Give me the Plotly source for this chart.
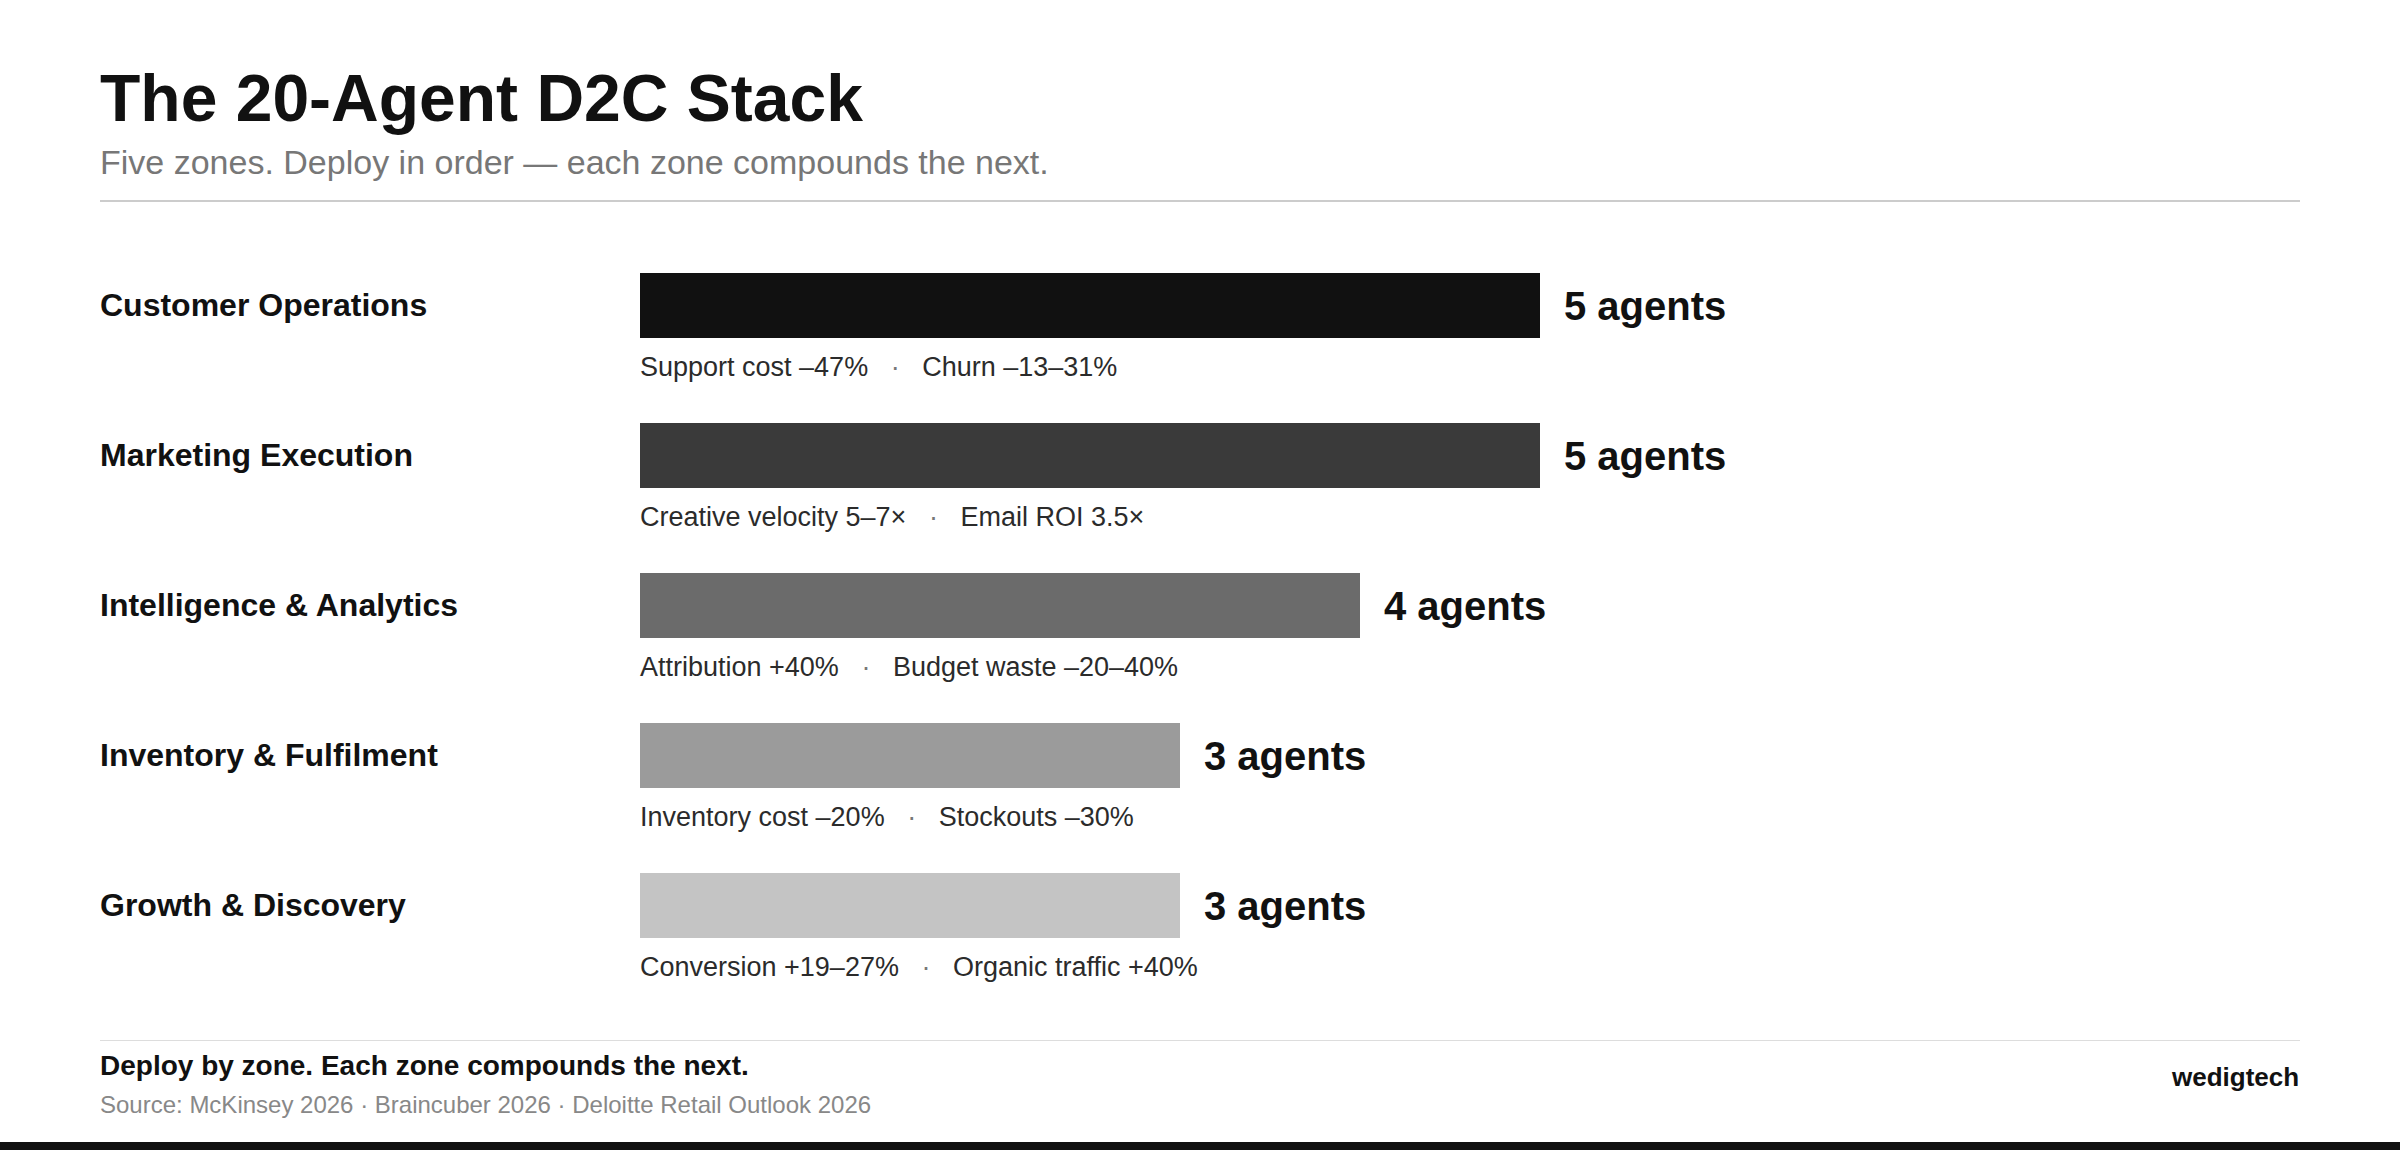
import plotly.graph_objects as go

# ---- data ----
zones = ["Customer Operations", "Marketing Execution", "Intelligence & Analytics",
         "Inventory & Fulfilment", "Growth & Discovery"]
agents = [5, 5, 4, 3, 3]
metric_a = ["Support cost –47%", "Creative velocity 5–7×", "Attribution +40%",
            "Inventory cost –20%", "Conversion +19–27%"]
metric_b = ["Churn –13–31%", "Email ROI 3.5×", "Budget waste –20–40%",
            "Stockouts –30%", "Organic traffic +40%"]
bar_colors = ["#111111", "#3a3a3a", "#6b6b6b", "#9b9b9b", "#c4c4c4"]

title = "The 20-Agent D2C Stack"
subtitle = "Five zones. Deploy in order — each zone compounds the next."
footer_main = "Deploy by zone. Each zone compounds the next."
footer_source = "Source: McKinsey 2026 · Braincuber 2026 · Deloitte Retail Outlook 2026"
brand = "wedigtech"

W, H = 2400, 1150
FONT = "Liberation Sans, Arial, Helvetica, sans-serif"
NB = "\u00a0"
XS = -1.5  # compensate annotation inner padding


def py(px):
    """pixel from top -> paper y"""
    return 1 - px / H


def pxx(px):
    return px / W


fig = go.Figure()
fig.add_trace(go.Bar(
    x=agents, y=zones, orientation="h",
    marker=dict(color=bar_colors, line=dict(width=0)),
    width=65 / 150,
    hoverinfo="skip",
))

annotations = []
# Title and subtitle
annotations.append(dict(x=pxx(100), y=py(98), xref="paper", yref="paper", text=f"<b>{title}</b>",
                        showarrow=False, xanchor="left", yanchor="middle", borderpad=0, xshift=XS,
                        font=dict(family=FONT, size=66, color="#111111")))
annotations.append(dict(x=pxx(100), y=py(161.5), xref="paper", yref="paper", text=subtitle,
                        showarrow=False, xanchor="left", yanchor="middle", borderpad=0, xshift=XS,
                        font=dict(family=FONT, size=34, color="#777777")))

sep = NB * 3 + "<span style='color:#777777'>·</span>" + NB * 3
for z, n, a, b in zip(zones, agents, metric_a, metric_b):
    # zone label
    annotations.append(dict(x=pxx(100), y=z, xref="paper", yref="y", text=f"<b>{z}</b>",
                            showarrow=False, xanchor="left", yanchor="middle", borderpad=0,
                            yshift=1, xshift=XS,
                            font=dict(family=FONT, size=32, color="#111111")))
    # value label
    annotations.append(dict(x=n, y=z, xref="x", yref="y", text=f"<b>{n} agents</b>",
                            showarrow=False, xanchor="left", yanchor="middle", borderpad=0,
                            xshift=24 + XS,
                            font=dict(family=FONT, size=40, color="#111111")))
    # metrics line
    annotations.append(dict(x=0, y=z, xref="x", yref="y", text=f"{a}{sep}{b}",
                            showarrow=False, xanchor="left", yanchor="middle", borderpad=0,
                            yshift=-61, xshift=XS,
                            font=dict(family=FONT, size=27, color="#2b2b2b")))

# footer
annotations.append(dict(x=pxx(100), y=py(1065), xref="paper", yref="paper", text=f"<b>{footer_main}</b>",
                        showarrow=False, xanchor="left", yanchor="middle", borderpad=0, xshift=XS,
                        font=dict(family=FONT, size=28, color="#111111")))
annotations.append(dict(x=pxx(100), y=py(1104), xref="paper", yref="paper", text=footer_source,
                        showarrow=False, xanchor="left", yanchor="middle", borderpad=0, xshift=XS,
                        font=dict(family=FONT, size=24, color="#888888")))
annotations.append(dict(x=pxx(2300), y=py(1077), xref="paper", yref="paper", text=f"<b>{brand}</b>",
                        showarrow=False, xanchor="right", yanchor="middle", borderpad=0,
                        font=dict(family=FONT, size=26, color="#111111")))

shapes = [
    dict(type="line", xref="paper", yref="paper", x0=pxx(100), x1=pxx(2300), y0=py(201), y1=py(201),
         line=dict(color="#cccccc", width=2)),
    dict(type="line", xref="paper", yref="paper", x0=pxx(100), x1=pxx(2300), y0=py(1040.5), y1=py(1040.5),
         line=dict(color="#dddddd", width=1)),
    dict(type="rect", xref="paper", yref="paper", x0=0, x1=1, y0=0, y1=py(1142),
         fillcolor="#111111", line=dict(width=0)),
]

fig.update_layout(
    width=W, height=H,
    margin=dict(l=0, r=0, t=0, b=0),
    paper_bgcolor="#ffffff", plot_bgcolor="#ffffff",
    showlegend=False,
    hovermode=False,
    xaxis=dict(domain=[pxx(640), pxx(2300)], range=[0, 1660 / 180], visible=False, fixedrange=True),
    yaxis=dict(domain=[py(980.5), py(230.5)], categoryorder="array", categoryarray=zones,
               range=[len(zones) - 0.5, -0.5], visible=False, fixedrange=True),
    annotations=annotations,
    shapes=shapes,
)

fig.write_html("out.html", config={"displayModeBar": False})
